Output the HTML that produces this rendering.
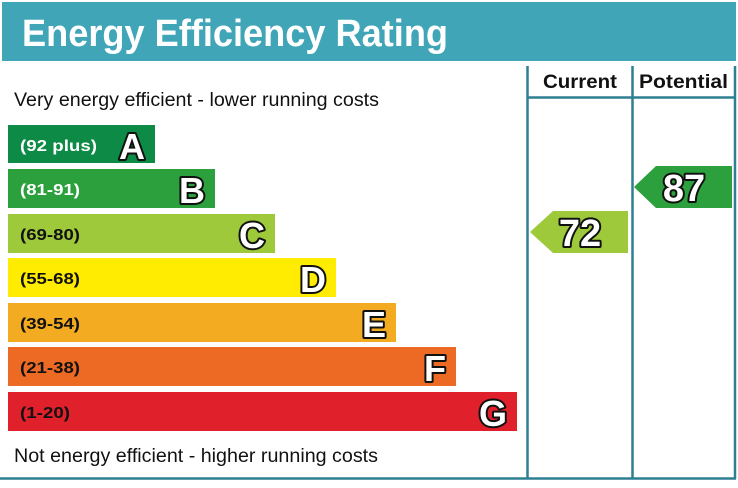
<!DOCTYPE html>
<html><head><meta charset="utf-8"><style>
html,body{margin:0;padding:0;background:#fff;}
body{width:738px;height:483px;overflow:hidden;}
</style></head><body>
<svg width="738" height="483" viewBox="0 0 738 483" xmlns="http://www.w3.org/2000/svg" font-family="Liberation Sans, sans-serif">
<rect x="2" y="2" width="734" height="59" fill="#3fa5b7"/>
<text x="22" y="46" font-size="38" font-weight="bold" fill="#fff" textLength="426" lengthAdjust="spacingAndGlyphs">Energy Efficiency Rating</text>
<g stroke="#2e7f92" stroke-width="2.5" fill="none">
<line x1="527.5" y1="66" x2="527.5" y2="479"/>
<line x1="632.5" y1="66" x2="632.5" y2="479"/>
<line x1="735" y1="66" x2="735" y2="479"/>
<line x1="0" y1="478.5" x2="736" y2="478.5"/>
<line x1="527" y1="97.5" x2="736" y2="97.5"/>
</g>
<text x="543" y="88" font-size="19" font-weight="bold" fill="#111" textLength="74" lengthAdjust="spacingAndGlyphs">Current</text>
<text x="639" y="88" font-size="19" font-weight="bold" fill="#111" textLength="89" lengthAdjust="spacingAndGlyphs">Potential</text>
<text x="14" y="106" font-size="19" fill="#111" textLength="365" lengthAdjust="spacingAndGlyphs">Very energy efficient - lower running costs</text>
<text x="14" y="462" font-size="19" fill="#111" textLength="364" lengthAdjust="spacingAndGlyphs">Not energy efficient - higher running costs</text>
<g font-weight="bold">
<rect x="8" y="125" width="147" height="38" fill="#0d8a45"/>
<text x="20" y="151" font-size="16" fill="#fff" textLength="77" lengthAdjust="spacingAndGlyphs">(92 plus)</text>
<rect x="8" y="169" width="207" height="39" fill="#2ba03c"/>
<text x="20" y="195" font-size="16" fill="#fff" textLength="60" lengthAdjust="spacingAndGlyphs">(81-91)</text>
<rect x="8" y="214" width="267" height="39" fill="#9dc93b"/>
<text x="20" y="240" font-size="16" fill="#111" textLength="60" lengthAdjust="spacingAndGlyphs">(69-80)</text>
<rect x="8" y="258" width="328" height="39" fill="#ffec00"/>
<text x="20" y="284" font-size="16" fill="#111" textLength="60" lengthAdjust="spacingAndGlyphs">(55-68)</text>
<rect x="8" y="303" width="388" height="39" fill="#f3ab21"/>
<text x="20" y="329" font-size="16" fill="#111" textLength="60" lengthAdjust="spacingAndGlyphs">(39-54)</text>
<rect x="8" y="347" width="448" height="39" fill="#ec6a24"/>
<text x="20" y="373" font-size="16" fill="#111" textLength="60" lengthAdjust="spacingAndGlyphs">(21-38)</text>
<rect x="8" y="392" width="509" height="39" fill="#e0202a"/>
<text x="20" y="418" font-size="16" fill="#111" textLength="50" lengthAdjust="spacingAndGlyphs">(1-20)</text>
<polygon points="530,232 553,211 628,211 628,253 553,253" fill="#9dc93b"/>
<polygon points="634,187 656,166 732,166 732,208 656,208" fill="#2ba03c"/>
<g font-size="36" fill="none" stroke="#111" stroke-width="4" stroke-linejoin="round" text-anchor="end">
<text x="145" y="159">A</text>
<text x="205" y="203">B</text>
<text x="265" y="248">C</text>
<text x="326" y="292">D</text>
<text x="386" y="337">E</text>
<text x="446" y="381">F</text>
<text x="507" y="426">G</text>
</g>
<g font-size="36" fill="#fff" stroke="none" text-anchor="end">
<text x="145" y="159">A</text>
<text x="205" y="203">B</text>
<text x="265" y="248">C</text>
<text x="326" y="292">D</text>
<text x="386" y="337">E</text>
<text x="446" y="381">F</text>
<text x="507" y="426">G</text>
</g>
<g font-size="38" fill="none" stroke="#111" stroke-width="4" stroke-linejoin="round" text-anchor="middle">
<text x="580" y="246">72</text>
<text x="684" y="201">87</text>
</g>
<g font-size="38" fill="#fff" stroke="none" text-anchor="middle">
<text x="580" y="246">72</text>
<text x="684" y="201">87</text>
</g>
</g>
</svg>
</body></html>
